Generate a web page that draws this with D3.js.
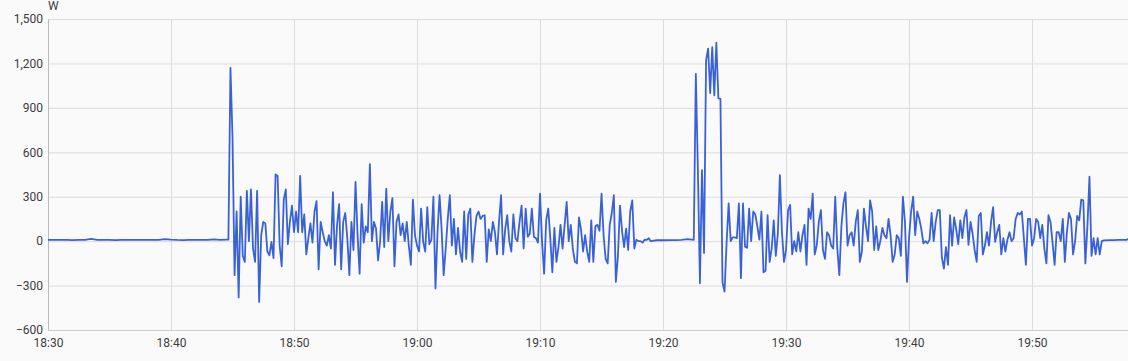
<!DOCTYPE html>
<html>
<head>
<meta charset="utf-8">
<script src="https://cdn.jsdelivr.net/npm/d3@7"></script>
<style>
  html, body { margin: 0; padding: 0; background: #fafafa; }
  svg { display: block; font-family: Roboto, "Noto Sans", sans-serif; }
</style>
</head>
<body>
<div id="chart"></div>
<script>
// power readings (W), each block sampled at a fixed interval from its start time
const quietStart1 = "18:30:00";
const quiet1 = [8, 8, 9, 8, 7, 8, 8, 15, 9, 8, 8, 7, 8, 8, 8, 8, 8, 9, 8, 14, 10, 8, 7, 8, 8, 9, 8, 12, 8];

const burstStart1 = "18:44:30";
const burst1 = [
  10, 10, 1170, 700, -230, 200, -380, 300, -100, -140,
  340, 0, 350, -50, -140, 340, -410, 40, 130, 120,
  -70, -95, -5, -115, 450, 440, -30, -170, 280, 350,
  -20, 130, 240, 60, 200, 60, 440, 60, 180, -90,
  20, 120, -10, 200, 270, -190, 130, 60, 0, -30,
  40, -50, 330, -160, 110, 250, -190, 130, 190, 20,
  -230, 130, -60, 400, 40, -220, 250, -10, 100, 60,
  520, 0, 130, 85, -130, 0, 265, -40, 355, 0,
  200, 290, -170, 130, 180, 40, 120, 0, 130, -30,
  -160, 280, 40, -30, -70, 220, -5, -70, 230, -20,
  10, 300, -320, 60, 310, 80, -230, -50, 150, 310,
  -30, 150, -90, 90, -70, -140, 200, -120, 180, 220,
  -140, 40, 170, 200, 150, 170, 175, -140, 80, 0,
  130, 60, -90, 130, 310, -90, 80, 175, 0, -70,
  180, 20, 0, 130, 240, -50, 220, 30, 50, 220,
  30, 20, -10, 320, -5, -220, 140, 220, 20, -210,
  90, -140, -40, 110, -50, 110, 265, 0, 110, -50,
  -140, -150, 160, 80, -70, 40, -70, -140, 140, -140,
  100, 110, 70, 320, 40, -120, -150, 110, 190, 310,
  -275, -100, 240, 70, -40, 85, -60, 200, 275, -50,
  10, 0, 0, -10, 10, 8, 20, 0
];

const quietStart2 = "19:19:30";
const quiet2 = [6, 6, 7, 7, 8, 14];

const burstStart2 = "19:22:20";
const burst2 = [
  10, 8, 1130, 480, -285, 480, -80, 1220, 1300, 1000,
  1310, 985, 1340, 965, 960, -280, -340, -15, 255, 0,
  25, 25, 20, 255, -250, 255, -38, -45, 220, 0,
  200, 180, 100, 10, 200, -210, -200, 175, -140, -50,
  140, -100, 50, 445, 60, -140, -60, 210, 245, -90,
  0, -70, 60, -70, 40, 110, -160, 220, 150, 320,
  -90, -27, 130, 210, -60, -120, 60, 40, -30, -50,
  300, -50, -230, 100, 255, 330, -30, 40, 60, -30,
  130, 210, -140, -70, 220, 100, 0, 275, 200, -60,
  100, -60, 0, 90, 40, 20, 150, 40, -140, -90,
  40, 20, -100, 300, 130, -275, 20, 200, 300, 40,
  200, 150, 80, -15, 0, -15, 10, 190, 0, 130,
  210, 210, -110, -185, -40, -160, 175, -30, 160, 80,
  -20, 140, 20, 160, 210, -25, 130, 50, -60, -140,
  170, 190, -90, -30, 60, -30, 130, 230, -5, 60,
  110, -90, 20, -70, 10, 60, 0, 20, 150, 190,
  180, 200, 20, -160, 150, 150, -30, 20, 150, 130,
  20, 110, -50, -150, 175, 130, -10, -160, 60, 60,
  0, 150, -140, 60, 190, 150, -90, 0, 170, 140,
  280, 275, -150, 100, 435, -100, 20, -90, 20, -90,
  0, 5
];

const quietStart3 = "19:56:20";
const quiet3 = [7, 7, 8, 8, 8, 25, 10];

const yTicks = [-600, -300, 0, 300, 600, 900, 1200, 1500];
const xTicks = ["18:30", "18:40", "18:50", "19:00", "19:10", "19:20", "19:30", "19:40", "19:50"];
const unit = "W";

const width = 1128, height = 361;
const margin = {top: 19, right: 0, bottom: 31, left: 48};
const lineColor = "#3a62d6";
const gridColor = "#dcdcdc";

const parseTime = d3.timeParse("%H:%M:%S");
const parseTick = d3.timeParse("%H:%M");

function block(start, stepSec, values) {
    const t0 = parseTime(start);
    return values.map((v, i) => ({t: new Date(t0.getTime() + i * stepSec * 1000), v: v}));
}

const data = [].concat(
    block(quietStart1, 30, quiet1),
    block(burstStart1, 10, burst1),
    block(quietStart2, 30, quiet2),
    block(burstStart2, 10, burst2),
    block(quietStart3, 20, quiet3)
);

const x = d3.scaleTime()
    .domain([parseTime("18:30:00"), parseTime("19:57:48")])
    .range([margin.left, width - margin.right]);

const y = d3.scaleLinear()
    .domain([-600, 1500])
    .range([height - margin.bottom, margin.top]);

const svg = d3.select("#chart").append("svg")
    .attr("width", width)
    .attr("height", height)
    .style("background", "#fafafa");

svg.append("defs").append("clipPath")
    .attr("id", "plot-clip")
    .append("rect")
    .attr("x", margin.left)
    .attr("y", 0)
    .attr("width", width - margin.left - margin.right)
    .attr("height", height - margin.bottom);

const tickDates = xTicks.map(parseTick);

// grid
svg.append("g")
    .selectAll("line")
    .data(yTicks)
    .join("line")
    .attr("x1", margin.left)
    .attr("x2", width - margin.right)
    .attr("y1", d => y(d) + 0.5)
    .attr("y2", d => y(d) + 0.5)
    .attr("stroke", gridColor);

svg.append("g")
    .selectAll("line")
    .data(tickDates)
    .join("line")
    .attr("x1", d => Math.round(x(d)) + 0.5)
    .attr("x2", d => Math.round(x(d)) + 0.5)
    .attr("y1", margin.top)
    .attr("y2", height - margin.bottom)
    .attr("stroke", gridColor);

// axes
const yAxis = svg.append("g")
    .attr("transform", `translate(${margin.left},0)`)
    .call(d3.axisLeft(y).tickValues(yTicks).tickFormat(d3.format(",")).tickSize(0).tickPadding(5));
yAxis.select(".domain").attr("stroke", "#bbb");

const xAxis = svg.append("g")
    .attr("transform", `translate(0,${height - margin.bottom})`)
    .call(d3.axisBottom(x).tickValues(tickDates).tickFormat(d3.timeFormat("%H:%M")).tickSize(0).tickPadding(8));
xAxis.select(".domain").attr("stroke", "#ccc");

svg.selectAll(".tick text")
    .attr("fill", "#3c3c3c")
    .style("font-size", "12px")
    .style("font-family", "Roboto, sans-serif");

svg.append("text")
    .attr("x", margin.left)
    .attr("y", 10)
    .attr("fill", "#3c3c3c")
    .style("font-size", "12px")
    .style("font-family", "Roboto, sans-serif")
    .text(unit);

// series
const line = d3.line()
    .x(d => x(d.t))
    .y(d => y(d.v));

svg.append("path")
    .datum(data)
    .attr("clip-path", "url(#plot-clip)")
    .attr("fill", "none")
    .attr("stroke", lineColor)
    .attr("stroke-width", 1.8)
    .attr("stroke-linejoin", "round")
    .attr("d", line);
</script>
</body>
</html>
